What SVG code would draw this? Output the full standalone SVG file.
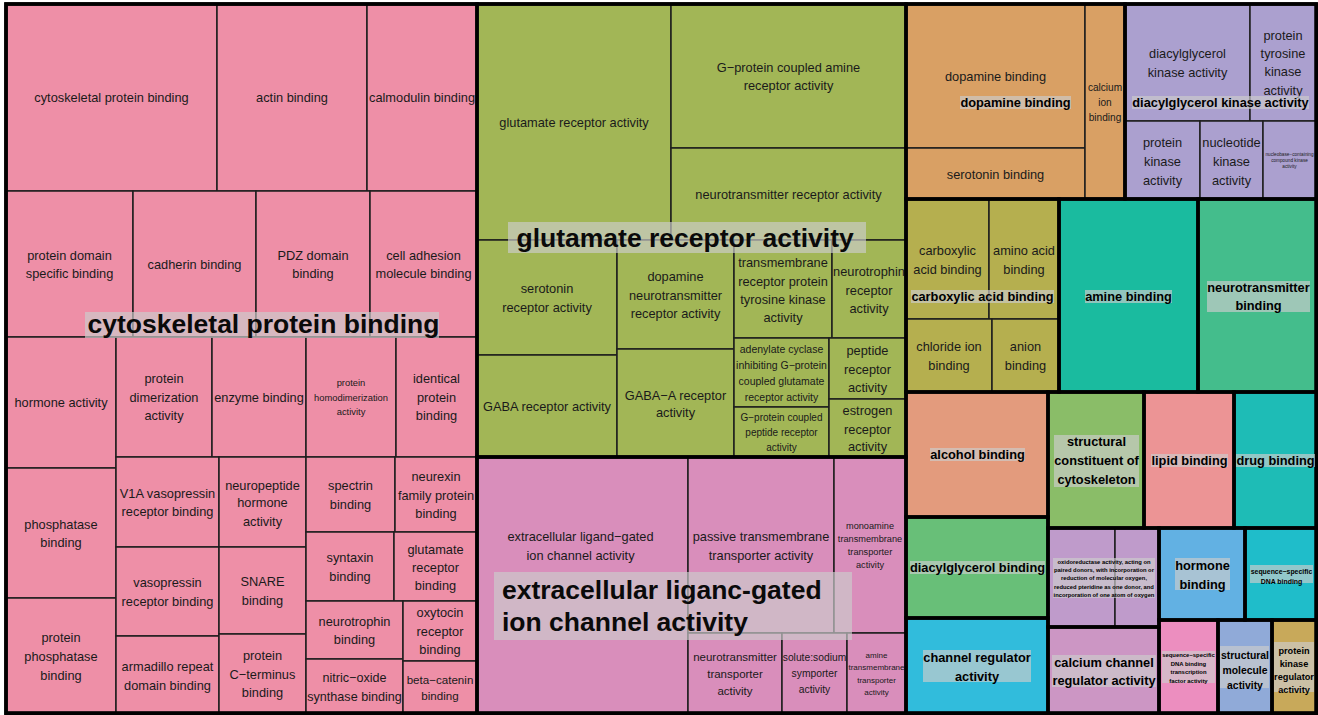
<svg xmlns="http://www.w3.org/2000/svg" width="1318" height="715" viewBox="0 0 1318 715">
<style>
.tile{stroke:#1e1e1e;stroke-width:1.5}
.grp{fill:none;stroke:#000;stroke-width:3.5}
.lb{font-family:"Liberation Sans",Arial,Helvetica,sans-serif;font-size:12.8px;fill:#1a1a1a;text-anchor:middle}
.gl{font-family:"Liberation Sans",Arial,Helvetica,sans-serif;font-weight:bold;font-size:12.8px;fill:#000;text-anchor:middle}
.big{font-size:26.5px;text-anchor:start;fill:#0a0a0a}
.bg{fill:#CCCCCC;fill-opacity:0.667}
</style>
<rect x="0" y="0" width="1318" height="715" fill="#ffffff"/>

<!-- cytoskeletal protein binding cluster -->
<g id="cytoskeletal-protein-binding" fill="#EE8FA7">
<g class="tile">
<rect x="6" y="4" width="211" height="187"/><rect x="217" y="4" width="150" height="187"/><rect x="367" y="4" width="110" height="187"/>
<rect x="6" y="191" width="127" height="146"/><rect x="133" y="191" width="123" height="146"/><rect x="256" y="191" width="114" height="146"/><rect x="370" y="191" width="107" height="146"/>
<rect x="6" y="337" width="110" height="131"/><rect x="6" y="468" width="110" height="130"/><rect x="6" y="598" width="110" height="115"/>
<rect x="116" y="337" width="96" height="120"/><rect x="212" y="337" width="94" height="120"/><rect x="306" y="337" width="90" height="120"/><rect x="396" y="337" width="81" height="120"/>
<rect x="116" y="457" width="103" height="90"/><rect x="116" y="547" width="103" height="89"/><rect x="116" y="636" width="103" height="77"/>
<rect x="219" y="457" width="87" height="90"/><rect x="219" y="547" width="87" height="87"/><rect x="219" y="634" width="87" height="79"/>
<rect x="306" y="457" width="89" height="75"/><rect x="395" y="457" width="82" height="75"/>
<rect x="306" y="532" width="88" height="69"/><rect x="394" y="532" width="83" height="69"/>
<rect x="306" y="601" width="97" height="58"/><rect x="306" y="659" width="97" height="54"/>
<rect x="403" y="601" width="74" height="60"/><rect x="403" y="661" width="74" height="52"/>
</g>
<text class="lb" x="111.5" y="102">cytoskeletal protein binding</text>
<text class="lb" x="292" y="102">actin binding</text>
<text class="lb" x="422" y="102">calmodulin binding</text>
<text class="lb"><tspan x="69.5" y="259.5">protein domain</tspan><tspan x="69.5" y="278.3">specific binding</tspan></text>
<text class="lb" x="194.5" y="269">cadherin binding</text>
<text class="lb"><tspan x="313" y="259.5">PDZ domain</tspan><tspan x="313" y="278.3">binding</tspan></text>
<text class="lb"><tspan x="423.5" y="259.5">cell adhesion</tspan><tspan x="423.5" y="278.3">molecule binding</tspan></text>
<text class="lb" x="61" y="407">hormone activity</text>
<text class="lb"><tspan x="61" y="529">phosphatase</tspan><tspan x="61" y="547">binding</tspan></text>
<text class="lb"><tspan x="61" y="642">protein</tspan><tspan x="61" y="661">phosphatase</tspan><tspan x="61" y="679.5">binding</tspan></text>
<text class="lb"><tspan x="164" y="383">protein</tspan><tspan x="164" y="402">dimerization</tspan><tspan x="164" y="420">activity</tspan></text>
<text class="lb" x="259" y="402">enzyme binding</text>
<text class="lb" style="font-size:9.4px"><tspan x="351" y="386">protein</tspan><tspan x="351" y="401">homodimerization</tspan><tspan x="351" y="415.3">activity</tspan></text>
<text class="lb"><tspan x="436.5" y="383">identical</tspan><tspan x="436.5" y="402">protein</tspan><tspan x="436.5" y="420">binding</tspan></text>
<text class="lb"><tspan x="167.5" y="498">V1A vasopressin</tspan><tspan x="167.5" y="516">receptor binding</tspan></text>
<text class="lb"><tspan x="167.5" y="587">vasopressin</tspan><tspan x="167.5" y="605.5">receptor binding</tspan></text>
<text class="lb"><tspan x="167.5" y="670.5">armadillo repeat</tspan><tspan x="167.5" y="689.5">domain binding</tspan></text>
<text class="lb"><tspan x="262.5" y="489.5">neuropeptide</tspan><tspan x="262.5" y="507">hormone</tspan><tspan x="262.5" y="526">activity</tspan></text>
<text class="lb"><tspan x="262.5" y="586">SNARE</tspan><tspan x="262.5" y="605">binding</tspan></text>
<text class="lb"><tspan x="262.5" y="660">protein</tspan><tspan x="262.5" y="679">C−terminus</tspan><tspan x="262.5" y="697">binding</tspan></text>
<text class="lb"><tspan x="350.5" y="490">spectrin</tspan><tspan x="350.5" y="508.5">binding</tspan></text>
<text class="lb"><tspan x="436" y="481">neurexin</tspan><tspan x="436" y="500">family protein</tspan><tspan x="436" y="518">binding</tspan></text>
<text class="lb"><tspan x="350" y="562">syntaxin</tspan><tspan x="350" y="580.5">binding</tspan></text>
<text class="lb"><tspan x="435.5" y="553.5">glutamate</tspan><tspan x="435.5" y="572">receptor</tspan><tspan x="435.5" y="590">binding</tspan></text>
<text class="lb"><tspan x="354.5" y="626">neurotrophin</tspan><tspan x="354.5" y="644">binding</tspan></text>
<text class="lb" style="font-size:12.6px"><tspan x="354.5" y="682">nitric−oxide</tspan><tspan x="354.5" y="700.5">synthase binding</tspan></text>
<text class="lb"><tspan x="440" y="617">oxytocin</tspan><tspan x="440" y="636">receptor</tspan><tspan x="440" y="654">binding</tspan></text>
<text class="lb" style="font-size:11.6px"><tspan x="440" y="683.5">beta−catenin</tspan><tspan x="440" y="699.5">binding</tspan></text>
</g>

<!-- glutamate receptor activity cluster -->
<g id="glutamate-receptor-activity" fill="#A2B656">
<g class="tile">
<rect x="477" y="4" width="194" height="236"/><rect x="671" y="4" width="235" height="144"/><rect x="671" y="148" width="235" height="92"/>
<rect x="477" y="240" width="140" height="115"/><rect x="477" y="355" width="140" height="102"/>
<rect x="617" y="240" width="117" height="109"/><rect x="617" y="349" width="117" height="108"/>
<rect x="734" y="240" width="98" height="98"/><rect x="832" y="240" width="74" height="98"/>
<rect x="734" y="338" width="95" height="69"/><rect x="734" y="407" width="95" height="50"/>
<rect x="829" y="338" width="77" height="61"/><rect x="829" y="399" width="77" height="58"/>
</g>
<text class="lb" x="574" y="127">glutamate receptor activity</text>
<text class="lb"><tspan x="788.5" y="71.5">G−protein coupled amine</tspan><tspan x="788.5" y="90">receptor activity</tspan></text>
<text class="lb" x="788.5" y="199">neurotransmitter receptor activity</text>
<text class="lb"><tspan x="547" y="293">serotonin</tspan><tspan x="547" y="312">receptor activity</tspan></text>
<text class="lb" x="547" y="411">GABA receptor activity</text>
<text class="lb"><tspan x="675.5" y="281">dopamine</tspan><tspan x="675.5" y="300">neurotransmitter</tspan><tspan x="675.5" y="318">receptor activity</tspan></text>
<text class="lb"><tspan x="675.5" y="399.5">GABA−A receptor</tspan><tspan x="675.5" y="417">activity</tspan></text>
<text class="lb"><tspan x="783" y="267">transmembrane</tspan><tspan x="783" y="285.5">receptor protein</tspan><tspan x="783" y="303.8">tyrosine kinase</tspan><tspan x="783" y="322">activity</tspan></text>
<text class="lb"><tspan x="869" y="276">neurotrophin</tspan><tspan x="869" y="294.5">receptor</tspan><tspan x="869" y="313">activity</tspan></text>
<text class="lb" style="font-size:10.5px"><tspan x="781.5" y="353">adenylate cyclase</tspan><tspan x="781.5" y="369">inhibiting G−protein</tspan><tspan x="781.5" y="385">coupled glutamate</tspan><tspan x="781.5" y="401">receptor activity</tspan></text>
<text class="lb" style="font-size:10px"><tspan x="781.5" y="420.8">G−protein coupled</tspan><tspan x="781.5" y="435.8">peptide receptor</tspan><tspan x="781.5" y="450.8">activity</tspan></text>
<text class="lb"><tspan x="867.5" y="355">peptide</tspan><tspan x="867.5" y="374">receptor</tspan><tspan x="867.5" y="392">activity</tspan></text>
<text class="lb"><tspan x="867.5" y="414.5">estrogen</tspan><tspan x="867.5" y="433.5">receptor</tspan><tspan x="867.5" y="451">activity</tspan></text>
</g>

<!-- extracellular ligand-gated ion channel activity cluster -->
<g id="extracellular-ligand-gated-ion-channel-activity" fill="#D98EBB">
<g class="tile">
<rect x="477" y="457" width="211" height="256"/><rect x="688" y="457" width="146" height="176"/><rect x="834" y="457" width="72" height="176"/>
<rect x="688" y="633" width="94" height="80"/><rect x="782" y="633" width="65" height="80"/><rect x="847" y="633" width="59" height="80"/>
</g>
<text class="lb"><tspan x="580.5" y="541">extracellular ligand−gated</tspan><tspan x="580.5" y="559.5">ion channel activity</tspan></text>
<text class="lb"><tspan x="761" y="540.5">passive transmembrane</tspan><tspan x="761" y="559.5">transporter activity</tspan></text>
<text class="lb" style="font-size:9.2px"><tspan x="870" y="529.2">monoamine</tspan><tspan x="870" y="542.2">transmembrane</tspan><tspan x="870" y="555.2">transporter</tspan><tspan x="870" y="568">activity</tspan></text>
<text class="lb" style="font-size:11.5px"><tspan x="735" y="661.3">neurotransmitter</tspan><tspan x="735" y="678.3">transporter</tspan><tspan x="735" y="694.5">activity</tspan></text>
<text class="lb" style="font-size:10.3px"><tspan x="814.5" y="661.3">solute:sodium</tspan><tspan x="814.5" y="677.3">symporter</tspan><tspan x="814.5" y="693">activity</tspan></text>
<text class="lb" style="font-size:8px"><tspan x="876.5" y="658.2">amine</tspan><tspan x="876.5" y="670.4">transmembrane</tspan><tspan x="876.5" y="682.8">transporter</tspan><tspan x="876.5" y="695">activity</tspan></text>
</g>

<!-- dopamine binding cluster -->
<g id="dopamine-binding" fill="#D9A064">
<g class="tile"><rect x="906" y="4" width="179" height="144"/><rect x="906" y="148" width="179" height="51"/><rect x="1085" y="4" width="40" height="195"/></g>
<text class="lb" x="995.5" y="81">dopamine binding</text>
<text class="lb" x="995.5" y="178.5">serotonin binding</text>
<text class="lb" style="font-size:10.1px"><tspan x="1105" y="91.2">calcium</tspan><tspan x="1105" y="106.2">ion</tspan><tspan x="1105" y="121">binding</tspan></text>
</g>

<!-- diacylglycerol kinase activity cluster -->
<g id="diacylglycerol-kinase-activity" fill="#ABA0CF">
<g class="tile"><rect x="1125" y="4" width="125" height="117"/><rect x="1250" y="4" width="66" height="117"/><rect x="1125" y="121" width="75" height="78"/><rect x="1200" y="121" width="63" height="78"/><rect x="1263" y="121" width="53" height="78"/></g>
<text class="lb"><tspan x="1187.5" y="58">diacylglycerol</tspan><tspan x="1187.5" y="76.5">kinase activity</tspan></text>
<text class="lb"><tspan x="1283" y="39.5">protein</tspan><tspan x="1283" y="57.8">tyrosine</tspan><tspan x="1283" y="76.2">kinase</tspan><tspan x="1283" y="94.5">activity</tspan></text>
<text class="lb"><tspan x="1162.5" y="147.2">protein</tspan><tspan x="1162.5" y="165.5">kinase</tspan><tspan x="1162.5" y="184.5">activity</tspan></text>
<text class="lb"><tspan x="1231.5" y="147.2">nucleotide</tspan><tspan x="1231.5" y="165.5">kinase</tspan><tspan x="1231.5" y="184.5">activity</tspan></text>
<text class="lb" style="font-size:4.7px"><tspan x="1289.5" y="156">nucleobase−containing</tspan><tspan x="1289.5" y="162">compound kinase</tspan><tspan x="1289.5" y="168">activity</tspan></text>
</g>

<!-- carboxylic acid binding cluster -->
<g id="carboxylic-acid-binding" fill="#B5AF4F">
<g class="tile"><rect x="906" y="199" width="83" height="120"/><rect x="989" y="199" width="70" height="120"/><rect x="906" y="319" width="86" height="73"/><rect x="992" y="319" width="67" height="73"/></g>
<text class="lb"><tspan x="947.5" y="255.2">carboxylic</tspan><tspan x="947.5" y="274.2">acid binding</tspan></text>
<text class="lb"><tspan x="1024" y="255.2">amino acid</tspan><tspan x="1024" y="274.2">binding</tspan></text>
<text class="lb"><tspan x="949" y="351.2">chloride ion</tspan><tspan x="949" y="370.2">binding</tspan></text>
<text class="lb"><tspan x="1025.5" y="351.2">anion</tspan><tspan x="1025.5" y="370.2">binding</tspan></text>
</g>

<!-- single-term clusters -->
<g id="amine-binding"><rect class="tile" x="1059" y="199" width="139" height="193" fill="#1ABB9F"/></g>
<g id="neurotransmitter-binding"><rect class="tile" x="1198" y="199" width="118" height="193" fill="#44BD8C"/></g>
<g id="alcohol-binding"><rect class="tile" x="906" y="392" width="142" height="125" fill="#E39B7D"/></g>
<g id="diacylglycerol-binding"><rect class="tile" x="906" y="517" width="142" height="101" fill="#68BF78"/></g>
<g id="channel-regulator-activity"><rect class="tile" x="906" y="618" width="142" height="95" fill="#31BCDC"/></g>
<g id="structural-constituent-of-cytoskeleton"><rect class="tile" x="1048" y="392" width="96" height="136" fill="#8ABD68"/></g>
<g id="lipid-binding"><rect class="tile" x="1144" y="392" width="90" height="136" fill="#EC9495"/></g>
<g id="drug-binding"><rect class="tile" x="1234" y="392" width="82" height="136" fill="#1EBCB6"/></g>
<g id="oxidoreductase-activity" fill="#BF9BCB"><rect class="tile" x="1048" y="528" width="67" height="99"/><rect class="tile" x="1115" y="528" width="44" height="99"/></g>
<g id="calcium-channel-regulator-activity"><rect class="tile" x="1048" y="627" width="111" height="86" fill="#CC96C4"/></g>
<g id="hormone-binding"><rect class="tile" x="1159" y="528" width="86" height="92" fill="#62B1E3"/></g>
<g id="sequence-specific-DNA-binding"><rect class="tile" x="1245" y="528" width="71" height="92" fill="#1FBDCA"/></g>
<g id="sequence-specific-DNA-binding-TF-activity"><rect class="tile" x="1159" y="620" width="59" height="93" fill="#EC8EBF"/></g>
<g id="structural-molecule-activity"><rect class="tile" x="1218" y="620" width="54" height="93" fill="#90AAD8"/></g>
<g id="protein-kinase-regulator-activity"><rect class="tile" x="1272" y="620" width="44" height="93" fill="#C8A95A"/></g>

<!-- cluster outlines -->
<g id="cluster-borders" class="grp">
<rect x="6" y="4" width="471" height="709"/>
<rect x="477" y="4" width="429" height="453"/>
<rect x="477" y="457" width="429" height="256"/>
<rect x="906" y="4" width="219" height="195"/>
<rect x="1125" y="4" width="191" height="195"/>
<rect x="906" y="199" width="153" height="193"/>
<rect x="1059" y="199" width="139" height="193"/>
<rect x="1198" y="199" width="118" height="193"/>
<rect x="906" y="392" width="142" height="125"/>
<rect x="906" y="517" width="142" height="101"/>
<rect x="906" y="618" width="142" height="95"/>
<rect x="1048" y="392" width="96" height="136"/>
<rect x="1144" y="392" width="90" height="136"/>
<rect x="1234" y="392" width="82" height="136"/>
<rect x="1048" y="528" width="111" height="99"/>
<rect x="1048" y="627" width="111" height="86"/>
<rect x="1159" y="528" width="86" height="92"/>
<rect x="1245" y="528" width="71" height="92"/>
<rect x="1159" y="620" width="59" height="93"/>
<rect x="1218" y="620" width="54" height="93"/>
<rect x="1272" y="620" width="44" height="93"/>
<rect x="6" y="4" width="1311" height="709.5"/>
</g>

<!-- cluster representative labels -->
<g id="cluster-labels">
<rect class="bg" x="85" y="312" width="354" height="26"/>
<text class="gl big" x="87.5" y="333">cytoskeletal protein binding</text>
<rect class="bg" x="508" y="222" width="358" height="31"/>
<text class="gl big" x="516.5" y="247">glutamate receptor activity</text>
<rect class="bg" x="494" y="572" width="358" height="68"/>
<text class="gl big"><tspan x="502" y="599">extracellular liganc-gated</tspan><tspan x="502" y="630.5">ion channel activity</tspan></text>

<rect class="bg" x="960" y="96" width="111" height="13"/>
<text class="gl" x="1015.5" y="107">dopamine binding</text>
<rect class="bg" x="1132" y="96" width="177" height="13"/>
<text class="gl" x="1220.5" y="107">diacylglycerol kinase activity</text>
<rect class="bg" x="911" y="290" width="143" height="13"/>
<text class="gl" x="982.5" y="301">carboxylic acid binding</text>
<rect class="bg" x="1085" y="290" width="87" height="13"/>
<text class="gl" x="1128.5" y="301">amine binding</text>
<rect class="bg" x="1207" y="281" width="103" height="31"/>
<text class="gl"><tspan x="1258.5" y="292">neurotransmitter</tspan><tspan x="1258.5" y="310">binding</tspan></text>
<rect class="bg" x="930" y="448" width="95" height="13"/>
<text class="gl" x="977.5" y="459">alcohol binding</text>
<rect class="bg" x="1054" y="435" width="85" height="52"/>
<text class="gl"><tspan x="1096.5" y="446">structural</tspan><tspan x="1096.5" y="465">constituent of</tspan><tspan x="1096.5" y="483.5">cytoskeleton</tspan></text>
<rect class="bg" x="1151" y="454" width="77" height="13"/>
<text class="gl" x="1189.5" y="465">lipid binding</text>
<rect class="bg" x="1236" y="454" width="79" height="13"/>
<text class="gl" x="1275.5" y="465">drug binding</text>
<rect class="bg" x="910" y="561" width="135" height="13"/>
<text class="gl" x="977.5" y="572">diacylglycerol binding</text>
<rect class="bg" x="923" y="650" width="108" height="32"/>
<text class="gl"><tspan x="977" y="661.8">channel regulator</tspan><tspan x="977" y="680.5">activity</tspan></text>
<rect class="bg" x="1053" y="558" width="102" height="40"/>
<text class="gl" style="font-size:5.8px"><tspan x="1104" y="563.5">oxidoreductase activity, acting on</tspan><tspan x="1104" y="571.9">paired donors, with incorporation or</tspan><tspan x="1104" y="580.3">reduction of molecular oxygen,</tspan><tspan x="1104" y="588.7">reduced pteridine as one donor, and</tspan><tspan x="1104" y="597.1">incorporation of one atom of oxygen</tspan></text>
<rect class="bg" x="1052" y="655" width="104" height="32"/>
<text class="gl"><tspan x="1104" y="666.8">calcium channel</tspan><tspan x="1104" y="684.5">regulator activity</tspan></text>
<rect class="bg" x="1175" y="558" width="55" height="32"/>
<text class="gl"><tspan x="1202.5" y="570">hormone</tspan><tspan x="1202.5" y="588.5">binding</tspan></text>
<rect class="bg" x="1250" y="565" width="63" height="18"/>
<text class="gl" style="font-size:6.9px"><tspan x="1281.5" y="573.5">sequence−specific</tspan><tspan x="1281.5" y="583.5">DNA binding</tspan></text>
<rect class="bg" x="1162" y="651" width="53" height="32"/>
<text class="gl" style="font-size:5.9px"><tspan x="1188.5" y="657">sequence−specific</tspan><tspan x="1188.5" y="665.7">DNA binding</tspan><tspan x="1188.5" y="674.4">transcription</tspan><tspan x="1188.5" y="683">factor activity</tspan></text>
<rect class="bg" x="1220" y="646" width="49" height="42"/>
<text class="gl" style="font-size:10.4px"><tspan x="1245" y="659.4">structural</tspan><tspan x="1245" y="674.4">molecule</tspan><tspan x="1245" y="689.4">activity</tspan></text>
<rect class="bg" x="1274" y="642" width="40" height="50"/>
<text class="gl" style="font-size:9.2px"><tspan x="1294" y="654.3">protein</tspan><tspan x="1294" y="667">kinase</tspan><tspan x="1294" y="680">regulator</tspan><tspan x="1294" y="693">activity</tspan></text>
</g>
</svg>
